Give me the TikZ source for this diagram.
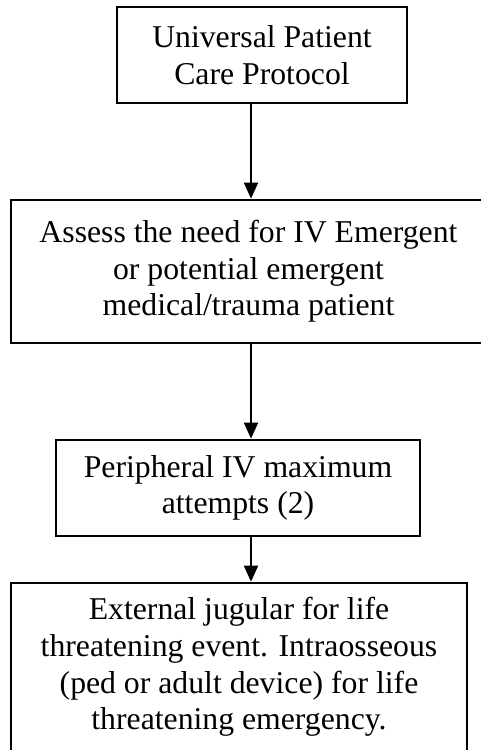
\documentclass[tikz,border=0pt]{standalone}
\usepackage{fontspec}
\setmainfont{Liberation Serif}
\usetikzlibrary{arrows.meta}
\begin{document}
\begin{tikzpicture}[x=0.75pt,y=-0.75pt,
  stepbox/.style={draw=black, line width=2pt, rectangle, align=center, inner sep=0pt,
    font=\fontsize{23.8}{27.5}\selectfont},
  flow/.style={draw=black, line width=1.4pt, -{Triangle[length=12pt,width=10.5pt]}}]
  % page area
  \path[use as bounding box, fill=white] (0,0) rectangle (481,750);
  \clip (0,0) rectangle (481,750);

  % vertical axis that the connectors follow
  \coordinate (axis) at (251,0);

  % boxes of the flow
  \node[stepbox, minimum width=217.5pt, minimum height=72pt] (b1) at (262,55)
    {Universal Patient\\Care Protocol};
  \node[stepbox, minimum width=356.25pt, minimum height=107.25pt] (b2) at (248.5,271.5)
    {Assess the need for IV Emergent\\or potential emergent\\medical/trauma patient};
  \node[stepbox, minimum width=273pt, minimum height=72pt] (b3) at (238,488)
    {Peripheral IV maximum\\attempts (2)};
  \node[stepbox, minimum width=342pt, minimum height=126pt] (b4) at (239,667)
    {External jugular for life\\threatening event. Intraosseous\\(ped or adult device) for life\\threatening emergency.};

  % connectors
  \draw[flow] (b1.south -| axis) -- (b2.north -| axis);
  \draw[flow] (b2.south -| axis) -- (b3.north -| axis);
  \draw[flow] (b3.south -| axis) -- (b4.north -| axis);
\end{tikzpicture}
\end{document}
